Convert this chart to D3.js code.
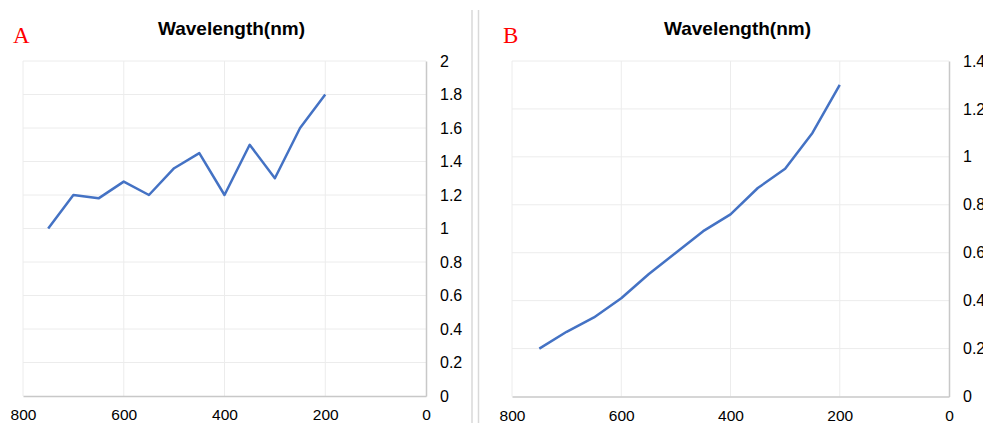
<!DOCTYPE html>
<html>
<head>
<meta charset="utf-8">
<script src="https://cdn.jsdelivr.net/npm/d3@7"></script>
<style>
  body { margin: 0; background: #fff; }
  svg { display: block; }
</style>
</head>
<body>
<svg id="chart" width="983" height="423"></svg>
<script>
// wavelength (nm) sampled every 50 nm
const wavelengths = [750, 700, 650, 600, 550, 500, 450, 400, 350, 300, 250, 200];
const seriesA = [1.0, 1.2, 1.18, 1.28, 1.2, 1.36, 1.45, 1.2, 1.5, 1.3, 1.6, 1.8];
const seriesB = [0.2, 0.27, 0.33, 0.41, 0.51, 0.6, 0.69, 0.76, 0.87, 0.95, 1.1, 1.3];
const xTicks = [800, 600, 400, 200, 0];
const yTicksA = [0, 0.2, 0.4, 0.6, 0.8, 1, 1.2, 1.4, 1.6, 1.8, 2];
const yTicksB = [0, 0.2, 0.4, 0.6, 0.8, 1, 1.2, 1.4];

const svg = d3.select('#chart');
const font = '"Liberation Sans", Arial, sans-serif';

// separator between the two panels
[472, 478.5].forEach(x => {
  svg.append('line')
    .attr('x1', x).attr('x2', x)
    .attr('y1', 10).attr('y2', 423)
    .attr('stroke', '#d9d9d9')
    .attr('stroke-width', 1.5);
});

function drawPanel(opts) {
  const { left, right, top, bottom, yMax, yTicks, values, letter, letterX } = opts;

  const x = d3.scaleLinear().domain([800, 0]).range([left, right]);
  const y = d3.scaleLinear().domain([0, yMax]).range([bottom, top]);

  const g = svg.append('g');

  // gridlines
  g.append('g')
    .selectAll('line')
    .data(yTicks.slice(1))
    .enter()
    .append('line')
    .attr('x1', left).attr('x2', right)
    .attr('y1', d => y(d)).attr('y2', d => y(d))
    .attr('stroke', '#ececec');

  g.append('g')
    .selectAll('line')
    .data(xTicks.slice(1, -1))
    .enter()
    .append('line')
    .attr('x1', d => x(d)).attr('x2', d => x(d))
    .attr('y1', top).attr('y2', bottom)
    .attr('stroke', '#ececec');

  g.append('line')
    .attr('x1', left).attr('x2', left)
    .attr('y1', top).attr('y2', bottom)
    .attr('stroke', '#ececec');

  // x axis
  const xAxis = g.append('g')
    .attr('transform', `translate(0,${bottom})`)
    .call(d3.axisBottom(x).tickValues(xTicks).tickSize(0).tickPadding(13));
  xAxis.select('.domain').attr('stroke', '#c8c8c8').attr('stroke-width', 1.5);
  xAxis.selectAll('text')
    .attr('fill', '#000')
    .style('font-family', font)
    .style('font-size', '15.5px');

  // y axis on the right
  const yAxis = g.append('g')
    .attr('transform', `translate(${right},0)`)
    .call(d3.axisRight(y).tickValues(yTicks).tickSize(0).tickPadding(14).tickFormat(d3.format('~g')));
  yAxis.select('.domain').attr('stroke', '#c8c8c8').attr('stroke-width', 1.5);
  yAxis.selectAll('text')
    .attr('fill', '#000')
    .style('font-family', font)
    .style('font-size', '16px');

  // data line
  const line = d3.line()
    .x((d, i) => x(wavelengths[i]))
    .y(d => y(d));

  g.append('path')
    .datum(values)
    .attr('fill', 'none')
    .attr('stroke', '#4472c4')
    .attr('stroke-width', 2.5)
    .attr('stroke-linejoin', 'round')
    .attr('d', line);

  // title
  g.append('text')
    .attr('x', (left + right) / 2 + 7)
    .attr('y', 35)
    .attr('text-anchor', 'middle')
    .style('font-family', font)
    .style('font-size', '19px')
    .style('font-weight', 'bold')
    .text('Wavelength(nm)');

  // panel letter
  g.append('text')
    .attr('x', letterX)
    .attr('y', 43)
    .attr('fill', '#ff0000')
    .style('font-family', '"Liberation Serif", "Times New Roman", serif')
    .style('font-size', '23px')
    .text(letter);
}

drawPanel({
  left: 23, right: 426, top: 61, bottom: 396,
  yMax: 2, yTicks: yTicksA, values: seriesA,
  letter: 'A', letterX: 13
});

drawPanel({
  left: 512, right: 949, top: 61, bottom: 396.5,
  yMax: 1.4, yTicks: yTicksB, values: seriesB,
  letter: 'B', letterX: 503
});
</script>
</body>
</html>
